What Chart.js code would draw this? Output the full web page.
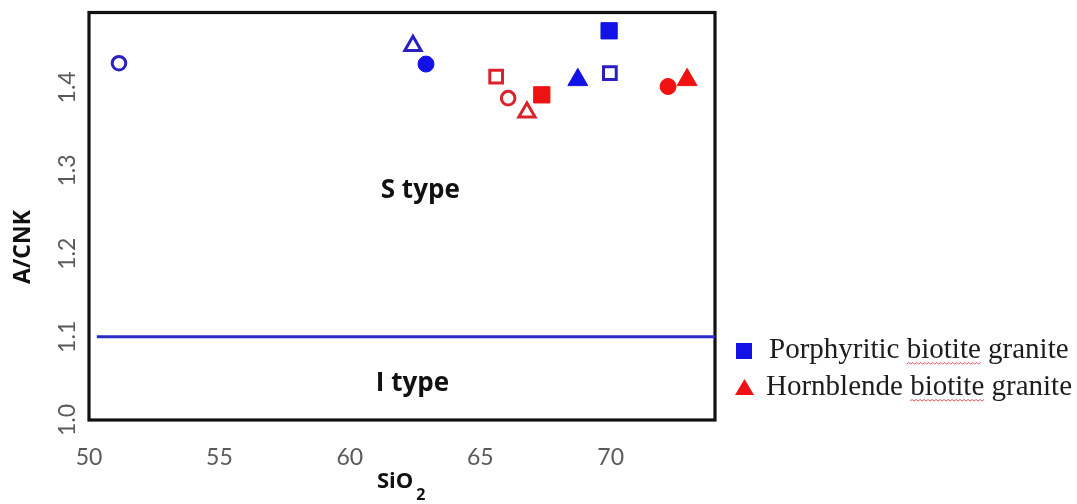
<!DOCTYPE html>
<html>
<head>
<meta charset="utf-8">
<title>A/CNK vs SiO2</title>
<script src="https://cdn.jsdelivr.net/npm/chart.js@4.4.1/dist/chart.umd.min.js"></script>
<style>
  html, body { margin: 0; padding: 0; background: #ffffff; }
  #wrap { width: 1077px; height: 504px; }
</style>
</head>
<body>
<div id="wrap"><canvas id="c" width="1077" height="504"></canvas></div>
<script>
// Porphyritic biotite granite (blue)
const porphyriticSiO2   = [51.15, 62.42, 62.92, 68.74, 69.94, 69.97];
const porphyriticACNK   = [1.429, 1.450, 1.428, 1.409, 1.468, 1.417];
const porphyriticShapes = ['circle', 'triangle', 'circle', 'triangle', 'rect', 'rect'];
const porphyriticFilled = [false, false, true, true, true, false];

// Hornblende biotite granite (red)
const hornblendeSiO2   = [65.61, 66.07, 66.79, 67.36, 72.20, 72.93];
const hornblendeACNK   = [1.413, 1.387, 1.370, 1.391, 1.401, 1.409];
const hornblendeShapes = ['rect', 'circle', 'triangle', 'rect', 'circle', 'triangle'];
const hornblendeFilled = [false, false, false, true, true, true];

// S-type / I-type boundary
const boundaryACNK = 1.1;
const boundarySiO2 = [50.3, 74];

const xTickValues = [50, 55, 60, 65, 70];
const yTickValues = [1.0, 1.1, 1.2, 1.3, 1.4];
const seriesNames = ['Porphyritic biotite granite', 'Hornblende biotite granite'];
const fieldLabels = ['S type', 'I type'];

const BLUE = '#1212e8', BLUE_LINE = '#2a1fc2';
const RED = '#f01212', RED_LINE = '#d8232b';

// marker sizing per shape (filled / open)
function radiusFor(shape, filled) {
  if (shape === 'rect') return filled ? 11.5 : 9;
  if (shape === 'triangle') return filled ? 11.5 : 9.4;
  return filled ? 8 : 6.8;
}

function points(xs, ys) { return xs.map((x, i) => ({ x: x, y: ys[i] })); }

function markerDataset(label, xs, ys, shapes, filled, fill, line) {
  return {
    label: label,
    data: points(xs, ys),
    pointStyle: shapes,
    pointRadius: shapes.map((s, i) => radiusFor(s, filled[i])),
    pointHoverRadius: shapes.map((s, i) => radiusFor(s, filled[i])),
    pointBackgroundColor: filled.map(f => f ? fill : '#ffffff'),
    pointBorderColor: filled.map(f => f ? fill : line),
    pointBorderWidth: filled.map(f => f ? 1 : 3),
    showLine: false
  };
}

const datasets = [
  markerDataset(seriesNames[0], porphyriticSiO2, porphyriticACNK, porphyriticShapes, porphyriticFilled, BLUE, BLUE_LINE),
  markerDataset(seriesNames[1], hornblendeSiO2, hornblendeACNK, hornblendeShapes, hornblendeFilled, RED, RED_LINE),
  {
    label: 'boundary',
    data: boundarySiO2.map(x => ({ x: x, y: boundaryACNK })),
    showLine: true,
    borderColor: '#2c2cc6',
    borderWidth: 3,
    pointRadius: 0,
    pointHoverRadius: 0
  }
];

// frame, rotated y tick labels, axis titles, field labels and legend
const decorations = {
  id: 'decorations',
  beforeDatasetsDraw(chart) {
    const { ctx, chartArea: a } = chart;
    ctx.save();
    ctx.strokeStyle = '#111111';
    ctx.lineWidth = 3.2;
    ctx.strokeRect(a.left, a.top, a.right - a.left, a.bottom - a.top);
    ctx.restore();
  },
  afterDraw(chart) {
    const { ctx, scales } = chart;
    const ys = scales.y, xs = scales.x;
    ctx.save();

    // y tick labels, reading upward
    ctx.fillStyle = '#5a5a5a';
    ctx.font = '23px Lato';
    ctx.textAlign = 'center';
    ctx.textBaseline = 'middle';
    yTickValues.forEach(v => {
      const py = ys.getPixelForValue(v);
      ctx.save();
      ctx.translate(68, py);
      ctx.rotate(-Math.PI / 2);
      ctx.fillText(v.toFixed(1), 0, 0);
      ctx.restore();
    });

    // y axis title
    ctx.fillStyle = '#111111';
    ctx.font = 'bold 23px "Open Sans"';
    ctx.save();
    ctx.translate(23, 247);
    ctx.rotate(-Math.PI / 2);
    ctx.fillText('A/CNK', 0, 0);
    ctx.restore();

    // x axis title with subscript
    ctx.textAlign = 'left';
    ctx.textBaseline = 'alphabetic';
    ctx.font = 'bold 22px "Open Sans"';
    const sx = 377, sy = 488;
    ctx.fillText('SiO', sx, sy);
    const w = ctx.measureText('SiO').width;
    ctx.font = 'bold 16px "Open Sans"';
    ctx.fillText('2', sx + w + 3, sy + 12);

    // field labels
    ctx.textAlign = 'center';
    ctx.textBaseline = 'middle';
    ctx.font = 'bold 26px "Open Sans"';
    ctx.fillText(fieldLabels[0], xs.getPixelForValue(62.7), ys.getPixelForValue(1.276));
    ctx.fillText(fieldLabels[1], xs.getPixelForValue(62.4), ys.getPixelForValue(1.044));

    // legend
    const items = [
      { text: chart.data.datasets[0].label, color: BLUE, shape: 'rect', y: 358 },
      { text: chart.data.datasets[1].label, color: RED, shape: 'triangle', y: 395 }
    ];
    ctx.font = '29px "Liberation Serif"';
    ctx.textAlign = 'left';
    ctx.textBaseline = 'alphabetic';
    items.forEach(it => {
      ctx.fillStyle = it.color;
      if (it.shape === 'rect') {
        ctx.fillRect(736, it.y - 15, 16, 16);
      } else {
        ctx.beginPath();
        ctx.moveTo(744.5, it.y - 16);
        ctx.lineTo(754, it.y);
        ctx.lineTo(735, it.y);
        ctx.closePath();
        ctx.fill();
      }
      const tx = it.shape === 'rect' ? 769 : 766;
      ctx.fillStyle = '#1c1c1c';
      ctx.fillText(it.text, tx, it.y);
      // spelling squiggle under "biotite"
      const idx = it.text.indexOf('biotite');
      const x0 = tx + ctx.measureText(it.text.slice(0, idx)).width;
      const x1 = x0 + ctx.measureText('biotite').width;
      ctx.strokeStyle = '#e0505a';
      ctx.lineWidth = 1;
      ctx.beginPath();
      let up = true;
      ctx.moveTo(x0, it.y + 6);
      for (let x = x0 + 2; x <= x1; x += 2) {
        ctx.lineTo(x, it.y + (up ? 4.5 : 6));
        up = !up;
      }
      ctx.stroke();
    });

    ctx.restore();
  }
};

new Chart(document.getElementById('c'), {
  type: 'scatter',
  data: { datasets: datasets },
  options: {
    responsive: false,
    animation: false,
    events: [],
    layout: { padding: { top: 11, right: 362, left: 0, bottom: 0 } },
    plugins: { legend: { display: false }, tooltip: { enabled: false } },
    scales: {
      x: {
        type: 'linear',
        min: 50,
        max: 74,
        grid: { display: false, drawTicks: false },
        border: { display: false },
        afterBuildTicks(scale) { scale.ticks = xTickValues.map(v => ({ value: v })); },
        afterFit(scale) { scale.height = 84; },
        ticks: {
          color: '#5a5a5a',
          padding: 24,
          font: { family: 'Lato', size: 23 },
          maxRotation: 0,
          autoSkip: false
        }
      },
      y: {
        type: 'linear',
        min: 1.0,
        max: 1.49,
        grid: { display: false, drawTicks: false },
        border: { display: false },
        afterBuildTicks(scale) { scale.ticks = yTickValues.map(v => ({ value: v })); },
        afterFit(scale) { scale.width = 89; },
        ticks: { display: false }
      }
    }
  },
  plugins: [decorations]
});
</script>
</body>
</html>
